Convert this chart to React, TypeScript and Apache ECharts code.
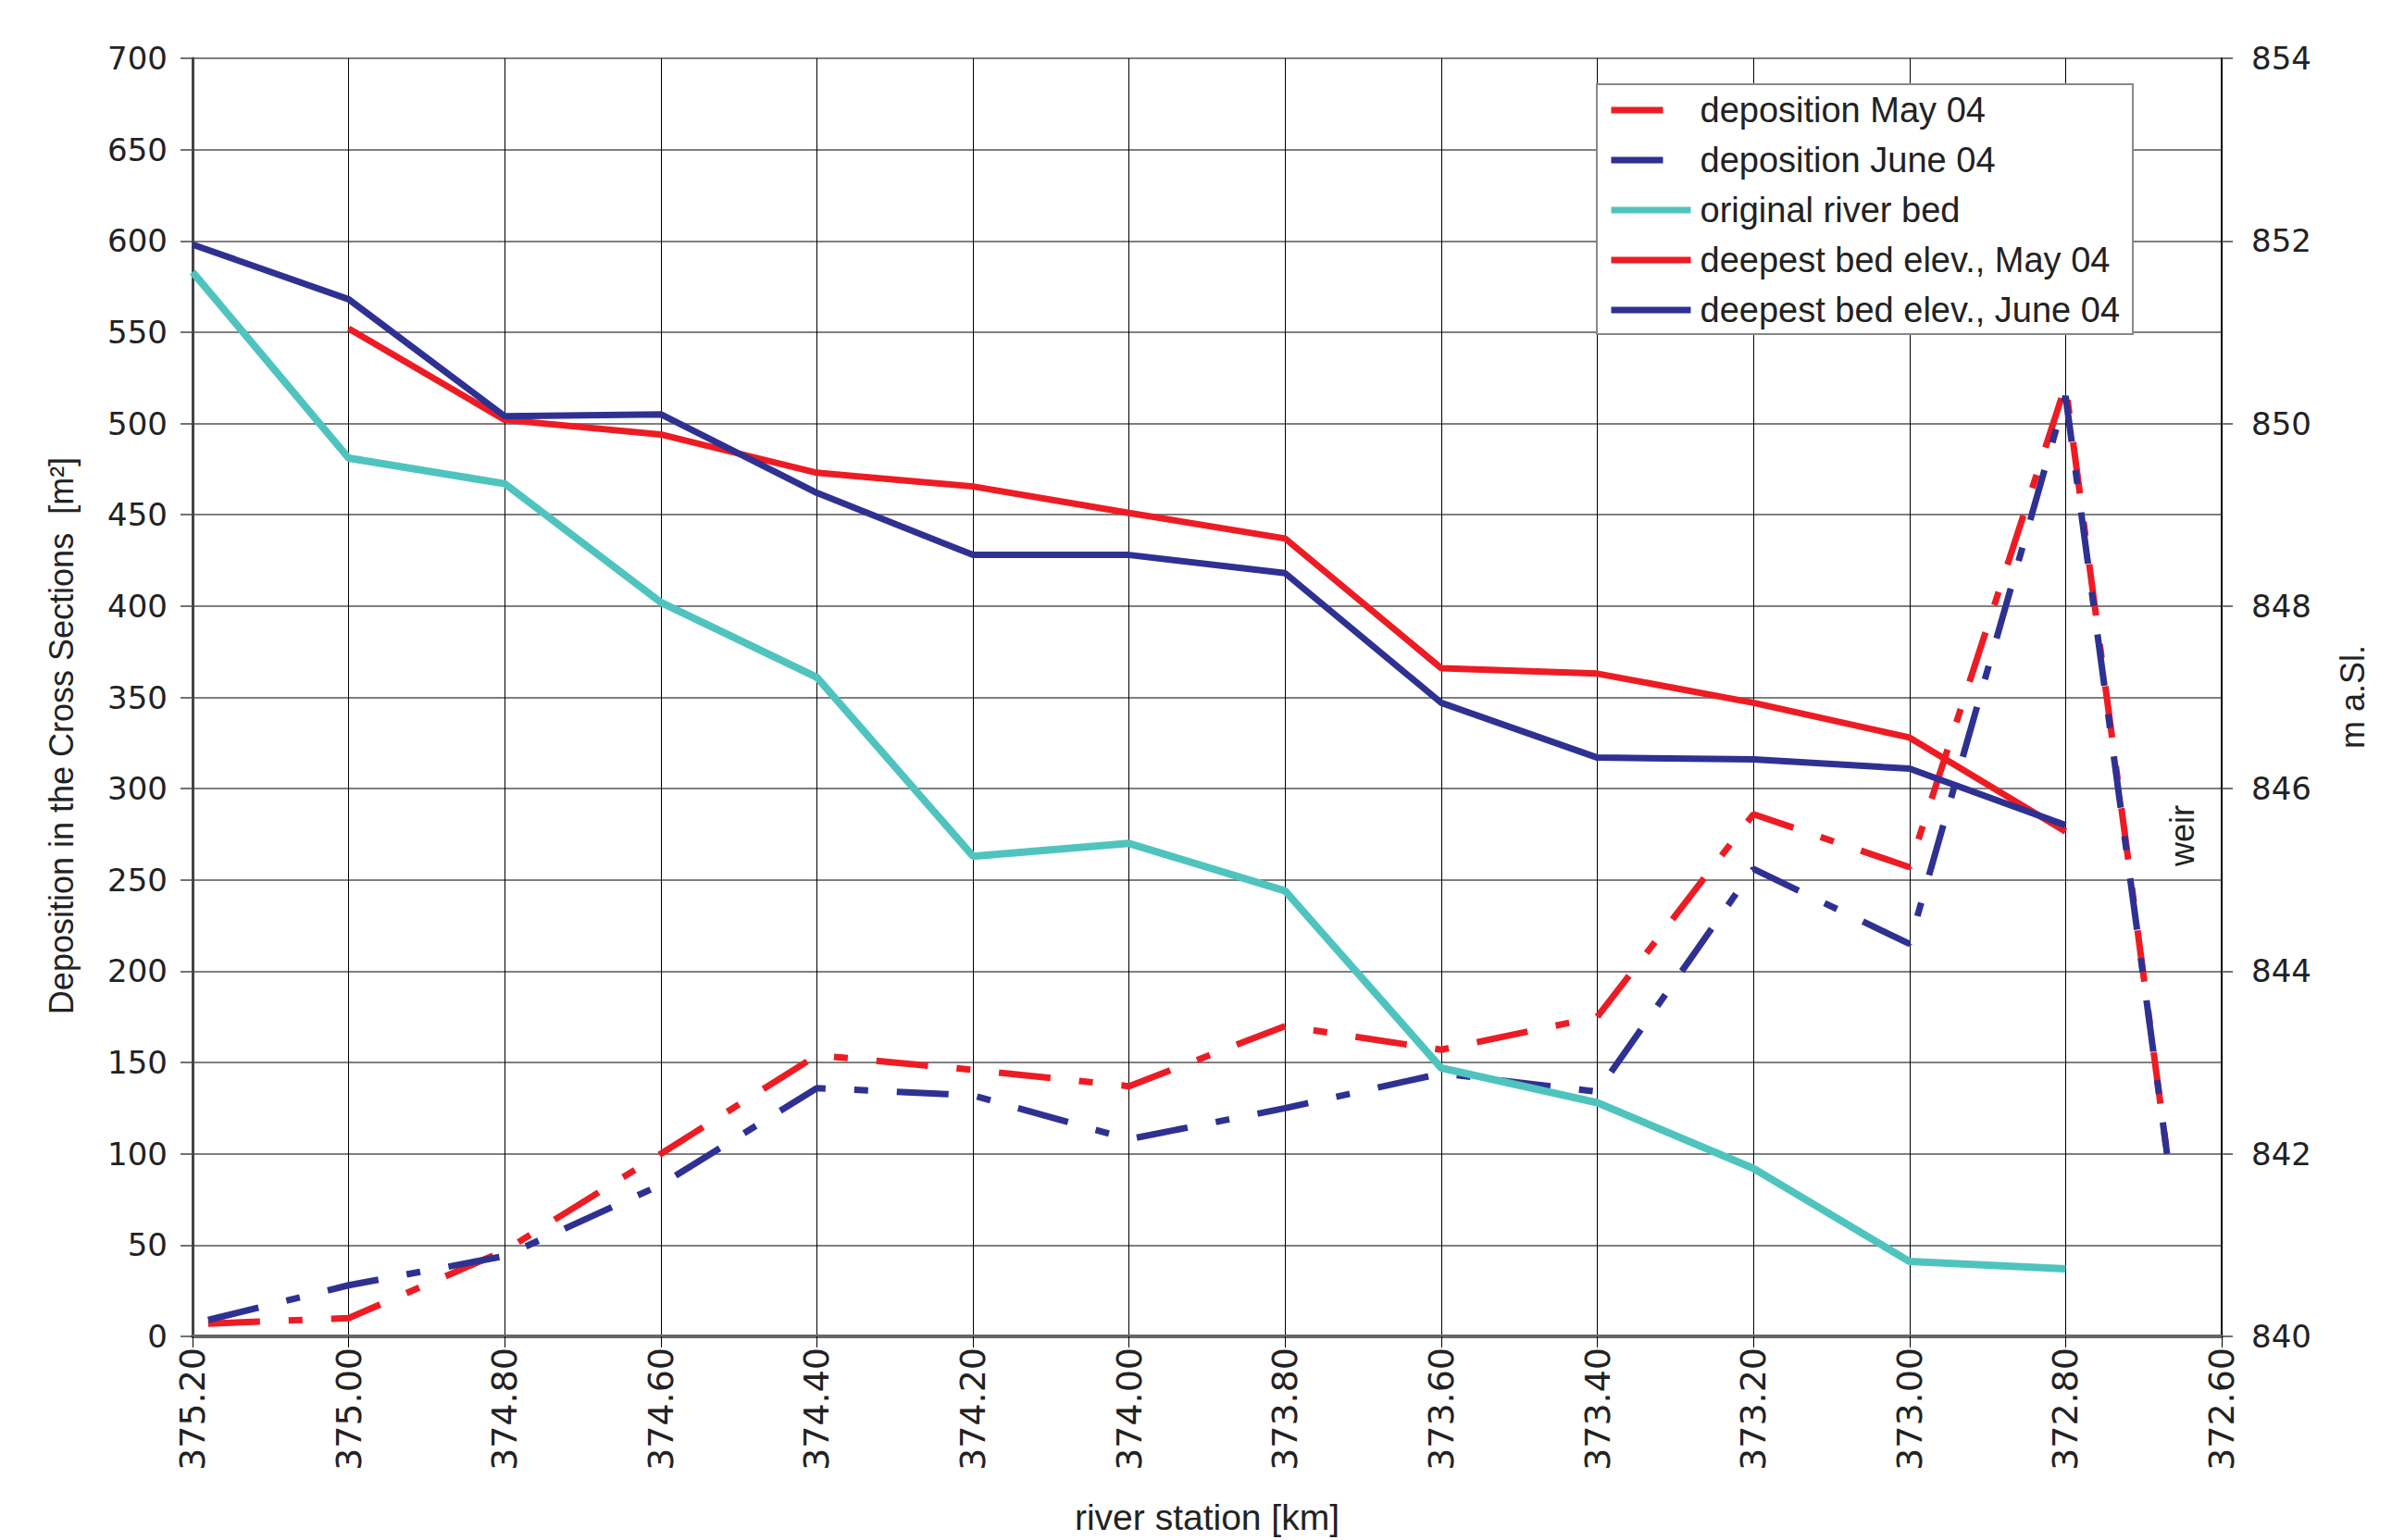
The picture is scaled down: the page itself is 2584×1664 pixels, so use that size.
import React, { useEffect, useRef } from "react";
import * as echarts from "echarts";

// river stations [km]
const bedStations = [375.2, 375.0, 374.8, 374.6, 374.4, 374.2, 374.0, 373.8, 373.6, 373.4, 373.2, 373.0, 372.8];
const mayBedStations = [375.0, 374.8, 374.6, 374.4, 374.2, 374.0, 373.8, 373.6, 373.4, 373.2, 373.0, 372.8];
const depositionStations = [375.18, 375.0, 374.8, 374.6, 374.4, 374.2, 374.0, 373.8, 373.6, 373.4, 373.2, 373.0, 372.8, 372.67];

// deposition in the cross sections [m²]
const depositionMay = [7, 10, 47, 100, 154, 146, 137, 170, 157, 175, 286, 257, 521, 100];
const depositionJune = [9, 28, 44, 83, 136, 132, 108, 125, 144, 134, 256, 215, 515, 100];

// elevations [m a.Sl.]
const originalRiverBed = [851.66, 849.62, 849.34, 848.04, 847.22, 845.26, 845.4, 844.88, 842.94, 842.56, 841.84, 840.82, 840.74];
const deepestBedMay = [851.04, 850.04, 849.88, 849.46, 849.31, 849.02, 848.74, 847.32, 847.26, 846.94, 846.56, 845.53];
const deepestBedJune = [851.96, 851.36, 850.08, 850.1, 849.24, 848.56, 848.56, 848.36, 846.94, 846.34, 846.32, 846.22, 845.6];

const seriesNames = [
  "deposition May 04",
  "deposition June 04",
  "original river bed",
  "deepest bed elev., May 04",
  "deepest bed elev., June 04",
];

const RED = "#ED1C24";
const BLUE = "#2E3192";
const CYAN = "#4FC4BF";
const DASH = [56, 31, 15, 31];

const pair = (xs: number[], ys: number[]) => xs.map((x, i) => [x, ys[i]]);

export default function App() {
  const ref = useRef<HTMLDivElement>(null);
  useEffect(() => {
    document.body.style.margin = "0";
    if (!ref.current) return;
    const chart = echarts.init(ref.current, null, { renderer: "svg" });
    const tickFont = { fontFamily: "DejaVu Sans", fontSize: 34, color: "#222" };
    const nameFamily = "Liberation Sans, Arial, sans-serif";
    const legendStyles = [
      { color: RED, type: DASH },
      { color: BLUE, type: DASH },
      { color: CYAN, type: "solid" },
      { color: RED, type: "solid" },
      { color: BLUE, type: "solid" },
    ];
    chart.setOption({
      animation: false,
      backgroundColor: "#fff",
      grid: { left: 208, right: 184, top: 63, bottom: 220, containLabel: false, outerBoundsMode: "none" },
      legend: {
        orient: "vertical",
        left: 1725,
        top: 91,
        padding: [8, 14, 6, 12],
        itemGap: 14,
        itemWidth: 86,
        itemHeight: 14,
        backgroundColor: "#fff",
        borderColor: "#888",
        borderWidth: 2,
        borderRadius: 0,
        itemStyle: { opacity: 0 },
        textStyle: { fontFamily: nameFamily, fontSize: 38, color: "#222", lineHeight: 40, padding: [0, 0, 0, 5] },
        data: seriesNames.map((n, i) => ({
          name: n,
          itemStyle: { opacity: 0 },
          lineStyle: { color: legendStyles[i].color, width: 7, type: legendStyles[i].type },
        })),
      },
      xAxis: {
        type: "value",
        inverse: true,
        min: 372.6,
        max: 375.2,
        interval: 0.2,
        name: "river station [km]",
        nameLocation: "middle",
        nameGap: 176,
        nameTextStyle: { fontFamily: nameFamily, fontSize: 39, color: "#222" },
        axisLine: { show: true, onZero: false, lineStyle: { color: "#666", width: 4 } },
        axisTick: { show: true, inside: false, length: 12, lineStyle: { color: "#000", width: 1 } },
        axisLabel: {
          ...tickFont,
          fontSize: 38,
          rotate: 90,
          margin: 12,
          formatter: (v: number) => v.toFixed(2),
        },
        splitLine: { show: true, lineStyle: { color: "#000", width: 1 } },
      },
      yAxis: [
        {
          type: "value",
          min: 0,
          max: 700,
          interval: 50,
          position: "left",
          axisLine: { show: true, lineStyle: { color: "#444", width: 3 } },
          axisTick: { show: true, inside: false, length: 13, lineStyle: { color: "#444", width: 1.5 } },
          axisLabel: { ...tickFont, margin: 27 },
          splitLine: { show: true, lineStyle: { color: "#555", width: 1.5 } },
        },
        {
          type: "value",
          min: 840,
          max: 854,
          interval: 2,
          position: "right",
          axisLine: { show: true, lineStyle: { color: "#000", width: 2 } },
          axisTick: { show: true, inside: false, length: 12, lineStyle: { color: "#444", width: 1.5 } },
          axisLabel: { ...tickFont, margin: 32 },
          splitLine: { show: false },
        },
      ],
      series: [
        {
          name: seriesNames[0],
          type: "line",
          yAxisIndex: 0,
          symbol: "none",
          data: pair(depositionStations, depositionMay),
          lineStyle: { color: RED, width: 7, type: DASH },
          itemStyle: { color: RED },
        },
        {
          name: seriesNames[1],
          type: "line",
          yAxisIndex: 0,
          symbol: "none",
          data: pair(depositionStations, depositionJune),
          lineStyle: { color: BLUE, width: 7, type: DASH },
          itemStyle: { color: BLUE },
        },
        {
          name: seriesNames[2],
          type: "line",
          yAxisIndex: 1,
          symbol: "none",
          data: pair(bedStations, originalRiverBed),
          lineStyle: { color: CYAN, width: 8 },
          itemStyle: { color: CYAN },
        },
        {
          name: seriesNames[3],
          type: "line",
          yAxisIndex: 1,
          symbol: "none",
          data: pair(mayBedStations, deepestBedMay),
          lineStyle: { color: RED, width: 7 },
          itemStyle: { color: RED },
        },
        {
          name: seriesNames[4],
          type: "line",
          yAxisIndex: 1,
          symbol: "none",
          data: pair(bedStations, deepestBedJune),
          lineStyle: { color: BLUE, width: 7 },
          itemStyle: { color: BLUE },
        },
      ],
      graphic: [
        {
          type: "text",
          x: 66,
          y: 795,
          rotation: Math.PI / 2,
          style: {
            text: "Deposition in the Cross Sections  [m²]",
            fontFamily: nameFamily,
            fontSize: 36,
            fill: "#222",
            align: "center",
            verticalAlign: "middle",
          },
        },
        {
          type: "text",
          x: 2541,
          y: 753,
          rotation: Math.PI / 2,
          style: {
            text: "m a.Sl.",
            fontFamily: nameFamily,
            fontSize: 36,
            fill: "#222",
            align: "center",
            verticalAlign: "middle",
          },
        },
        {
          type: "text",
          x: 2357,
          y: 903,
          rotation: Math.PI / 2,
          style: {
            text: "weir",
            fontFamily: nameFamily,
            fontSize: 36,
            fill: "#222",
            align: "center",
            verticalAlign: "middle",
          },
        },
      ],
    });
    return () => chart.dispose();
  }, []);
  return <div ref={ref} style={{ width: 2584, height: 1664 }} />;
}
